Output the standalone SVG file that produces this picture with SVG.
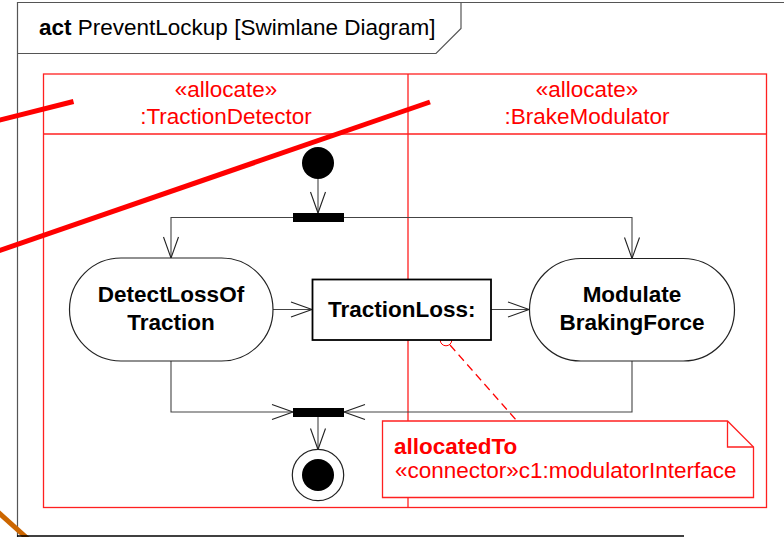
<svg xmlns="http://www.w3.org/2000/svg" width="784" height="537" viewBox="0 0 784 537">
<defs>
<style>
text{font-family:"Liberation Sans",Arial,sans-serif;font-size:22.5px}
.b{font-weight:bold}
.red{fill:#ff0000}
.frame{fill:none;stroke:#555;stroke-width:1.2}
.lane{fill:none;stroke:#ff2020;stroke-width:1.3}
.conn{fill:none;stroke:#444;stroke-width:1.1}
.act{fill:#fff;stroke:#222;stroke-width:1.2}
.strike{stroke:#ff0000;stroke-width:5;fill:none}
</style>
<marker id="arr" viewBox="-24 -10 26 20" refX="0" refY="0" markerWidth="26" markerHeight="20" markerUnits="userSpaceOnUse" orient="auto">
<path d="M-21,-7.5 L0,0 L-21,7.5" fill="none" stroke="#222" stroke-width="1.1"/>
</marker>
</defs>
<rect width="784" height="537" fill="#fff"/>

<g id="frame">
<path class="frame" d="M17.5 537 V2.5 H784"/>
<path class="frame" d="M17.5 53.5 H436 L461 28.5 V2.5"/>
<text x="39" y="35"><tspan class="b">act</tspan> PreventLockup [Swimlane Diagram]</text>
</g>

<g id="lanes">
<rect class="lane" x="43.5" y="74" width="723" height="433.5"/>
<line class="lane" x1="43.5" y1="134" x2="766.5" y2="134"/>
<line class="lane" x1="408" y1="74" x2="408" y2="507.5"/>
<text class="red" x="226" y="97" text-anchor="middle">«allocate»</text>
<text class="red" x="226" y="123.5" text-anchor="middle">:TractionDetector</text>
<text class="red" x="587" y="97" text-anchor="middle">«allocate»</text>
<text class="red" x="587" y="123.5" text-anchor="middle">:BrakeModulator</text>
</g>

<g id="connectors">
<path class="conn" d="M318 179 V213" marker-end="url(#arr)"/>
<path class="conn" d="M293 217.5 H171 V258" marker-end="url(#arr)"/>
<path class="conn" d="M344 217.5 H632 V258.5" marker-end="url(#arr)"/>
<path class="conn" d="M273 309.5 H312" marker-end="url(#arr)"/>
<path class="conn" d="M491 309.5 H529" marker-end="url(#arr)"/>
<path class="conn" d="M171 361 V412 H293" marker-end="url(#arr)"/>
<path class="conn" d="M632 361 V412 H344" marker-end="url(#arr)"/>
<path class="conn" d="M318 417 V449.5" marker-end="url(#arr)"/>
<circle cx="446" cy="340" r="5.8" fill="none" stroke="#ff0000" stroke-width="1"/>
<path d="M450 345 L517 421" fill="none" stroke="#ff0000" stroke-width="1.2" stroke-dasharray="8 5"/>
</g>

<g id="initial">
<circle cx="318" cy="163" r="16" fill="#000"/>
</g>

<g id="fork">
<rect x="293" y="213" width="51" height="9" fill="#000"/>
</g>

<g id="join">
<rect x="293" y="408" width="51" height="9" fill="#000"/>
</g>

<g id="final">
<circle cx="318" cy="475" r="25.7" fill="#fff" stroke="#222" stroke-width="1.2"/>
<circle cx="318" cy="475" r="16" fill="#000"/>
</g>

<g id="detectLossOfTraction">
<rect class="act" x="69.5" y="258" width="203.5" height="103" rx="51.5" ry="51.5"/>
<text class="b" x="171" y="302" text-anchor="middle">DetectLossOf</text>
<text class="b" x="171" y="329.5" text-anchor="middle">Traction</text>
</g>

<g id="tractionLoss">
<rect x="312.5" y="279.5" width="178.5" height="60.5" fill="#fff" stroke="#000" stroke-width="1.8"/>
<text class="b" x="401.75" y="317" text-anchor="middle">TractionLoss:</text>
</g>

<g id="modulateBrakingForce">
<rect class="act" x="529.5" y="258.5" width="205" height="102.5" rx="51.25" ry="51.25"/>
<text class="b" x="632" y="302" text-anchor="middle">Modulate</text>
<text class="b" x="632" y="329.5" text-anchor="middle">BrakingForce</text>
</g>

<g id="note">
<path d="M382.5 421 H727.5 L753.5 447 V497.5 H382.5 Z" fill="#fff" stroke="#ff2020" stroke-width="1.3"/>
<path d="M727.5 421 V447 H753.5" fill="none" stroke="#ff2020" stroke-width="1.3"/>
<text class="b red" x="394" y="454">allocatedTo</text>
<text class="red" x="395" y="477.5">«connector»c1:modulatorInterface</text>
</g>

<g id="overlay">
<line class="strike" x1="-2" y1="120.5" x2="73.5" y2="101.5"/>
<line class="strike" x1="-2" y1="251" x2="430" y2="102"/>
<line x1="-2" y1="512" x2="28" y2="539" stroke="#cc6600" stroke-width="5"/>
<line x1="17" y1="536" x2="684" y2="536" stroke="#000" stroke-width="1.6"/>
</g>
</svg>
